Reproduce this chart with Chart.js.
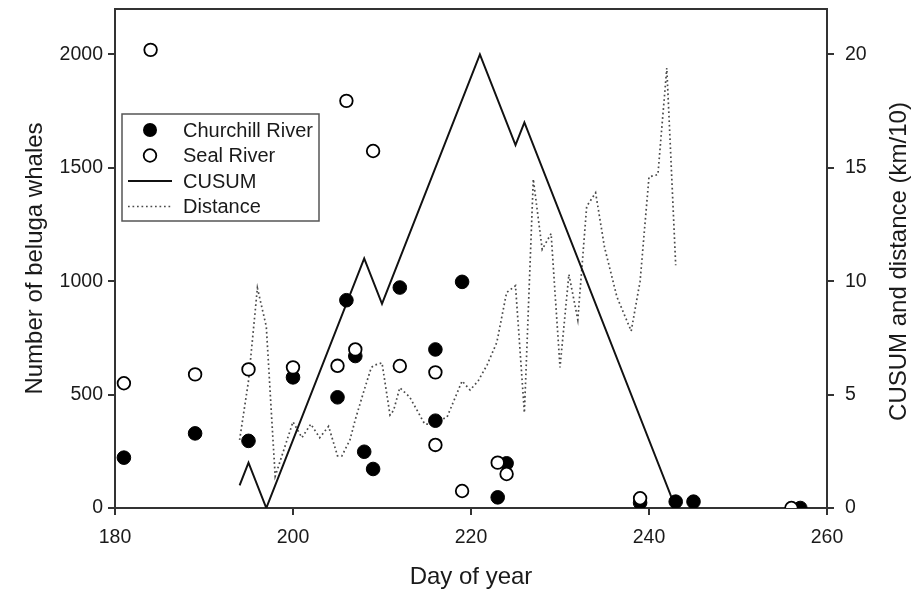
<!DOCTYPE html>
<html>
<head>
<meta charset="utf-8" />
<title>Beluga whales</title>
<script src="https://cdn.jsdelivr.net/npm/chart.js@4.4.1/dist/chart.umd.min.js"></script>
<style>
	html, body { margin: 0; padding: 0; background: #fff; }
	#wrap { width: 915px; height: 592px; }
</style>
</head>
<body>
<div id="wrap"><canvas id="myChart" width="915" height="592"></canvas></div>
<script>
// Beluga counts by day of year
const churchillDay = [181, 189, 195, 200, 205, 206, 207, 208, 209, 212, 216, 216, 219, 223, 224, 239, 243, 245, 257];
const churchillCount = [222, 329, 296, 576, 488, 916, 670, 248, 172, 972, 699, 385, 997, 47, 197, 23, 28, 28, 0];

const sealDay = [181, 184, 189, 195, 200, 205, 206, 207, 209, 212, 216, 216, 219, 223, 224, 239, 256];
const sealCount = [550, 2020, 589, 611, 620, 627, 1795, 699, 1574, 626, 598, 278, 75, 200, 150, 43, 0];

// CUSUM and distance (km/10), right axis
const cusumDay = [194, 195, 197, 208, 210, 221, 225, 226, 243];
const cusumValue = [1, 2, 0, 11, 9, 20, 16, 17, 0];

const distanceDay = [194, 195, 196, 197, 197.6, 198, 199, 200, 201, 202, 203, 204, 205, 205.5, 206.4, 207, 208, 208.8, 209.2, 210, 210.9, 211.3, 212, 213.1, 214.8, 215.4, 217.3, 219, 219.9, 220.8, 221.8, 222.9, 224, 225, 226, 227, 228, 229, 230, 231, 232, 233, 234, 235, 236.4, 238, 239, 240, 241, 242, 243];
const distanceValue = [3.0, 5.6, 9.7, 8.0, 4.0, 1.4, 2.6, 3.8, 3.1, 3.7, 3.1, 3.6, 2.3, 2.3, 3.0, 3.9, 5.2, 6.2, 6.3, 6.4, 4.1, 4.3, 5.3, 4.9, 3.7, 3.7, 4.0, 5.6, 5.2, 5.6, 6.3, 7.3, 9.5, 9.8, 4.2, 14.5, 11.4, 12.1, 6.2, 10.3, 8.3, 13.3, 13.9, 11.5, 9.3, 7.8, 10.0, 14.6, 14.7, 19.4, 10.7];

const xTicks = [180, 200, 220, 240, 260];
const leftTicks = [0, 500, 1000, 1500, 2000];
const rightTicks = [0, 5, 10, 15, 20];

const legendItems = [
	{ label: "Churchill River", kind: "filled" },
	{ label: "Seal River", kind: "open" },
	{ label: "CUSUM", kind: "line" },
	{ label: "Distance", kind: "dotted" },
];

function pairs(xs, ys) {
	return xs.map((x, i) => ({ x: x, y: ys[i] }));
}

const FONT = "'Liberation Sans', Arial, Helvetica, sans-serif";
const AXIS = "#333";
const TEXT = "#1a1a1a";
const DOTS = "#4a4a4a";

// box on top, right title, legend inside the plot
const extras = {
	id: "extras",
	afterDraw(chart) {
		const ctx = chart.ctx;
		const a = chart.chartArea;
		ctx.save();
		// top frame line
		ctx.strokeStyle = AXIS;
		ctx.lineWidth = 2;
		ctx.beginPath();
		ctx.moveTo(a.left - 1, a.top);
		ctx.lineTo(a.right + 1, a.top);
		ctx.stroke();

		// right title, reading upward
		ctx.fillStyle = TEXT;
		ctx.font = "24px " + FONT;
		ctx.textAlign = "center";
		ctx.textBaseline = "middle";
		ctx.translate(899, (a.top + a.bottom) / 2 + 3);
		ctx.rotate(-Math.PI / 2);
		ctx.fillText("CUSUM and distance (km/10)", 0, 0);
		ctx.restore();

		// legend
		ctx.save();
		ctx.fillStyle = "#fff";
		ctx.fillRect(122, 114, 197, 107);
		ctx.strokeStyle = "#555";
		ctx.lineWidth = 1.5;
		ctx.strokeRect(122, 114, 197, 107);
		ctx.font = "20px " + FONT;
		ctx.textAlign = "left";
		ctx.textBaseline = "middle";
		legendItems.forEach((it, i) => {
			const y = 130 + i * 25.5;
			ctx.strokeStyle = "#000";
			if (it.kind === "filled") {
				ctx.fillStyle = "#000";
				ctx.beginPath();
				ctx.arc(150, y, 7, 0, Math.PI * 2);
				ctx.fill();
			} else if (it.kind === "open") {
				ctx.fillStyle = "#fff";
				ctx.lineWidth = 1.8;
				ctx.beginPath();
				ctx.arc(150, y, 6.3, 0, Math.PI * 2);
				ctx.fill();
				ctx.stroke();
			} else {
				ctx.lineWidth = it.kind === "line" ? 2 : 1.7;
				ctx.strokeStyle = it.kind === "line" ? "#111" : DOTS;
				ctx.setLineDash(it.kind === "line" ? [] : [1.7, 2.8]);
				ctx.beginPath();
				ctx.moveTo(128, y);
				ctx.lineTo(172, y);
				ctx.stroke();
				ctx.setLineDash([]);
			}
			ctx.fillStyle = TEXT;
			ctx.fillText(it.label, 183, y + 1);
		});
		ctx.restore();
	},
};

function keepTicks(list) {
	return (scale) => {
		scale.ticks = list.map((v) => ({ value: v }));
	};
}

const plain = (v) => String(v);

new Chart(document.getElementById("myChart").getContext("2d"), {
	type: "scatter",
	data: {
		datasets: [
			{
				label: "Seal River",
				data: pairs(sealDay, sealCount),
				yAxisID: "y",
				pointRadius: 6.3,
				pointBackgroundColor: "#fff",
				pointBorderColor: "#000",
				pointBorderWidth: 1.8,
				order: 0,
			},
			{
				label: "Churchill River",
				data: pairs(churchillDay, churchillCount),
				yAxisID: "y",
				pointRadius: 6.8,
				pointBackgroundColor: "#000",
				pointBorderColor: "#000",
				pointBorderWidth: 1,
				order: 1,
			},
			{
				label: "CUSUM",
				data: pairs(cusumDay, cusumValue),
				yAxisID: "y2",
				showLine: true,
				borderColor: "#111",
				borderWidth: 2,
				pointRadius: 0,
				tension: 0,
				order: 2,
			},
			{
				label: "Distance",
				data: pairs(distanceDay, distanceValue),
				yAxisID: "y2",
				showLine: true,
				borderColor: DOTS,
				borderWidth: 1.7,
				borderDash: [1.7, 2.8],
				pointRadius: 0,
				tension: 0,
				order: 3,
			},
		],
	},
	options: {
		responsive: false,
		animation: false,
		devicePixelRatio: 1,
		layout: { padding: { top: 9, left: 0, right: 0, bottom: 0 } },
		plugins: {
			legend: { display: false },
			tooltip: { enabled: false },
		},
		scales: {
			x: {
				type: "linear",
				position: "bottom",
				min: 180,
				max: 260,
				afterBuildTicks: keepTicks(xTicks),
				afterFit: (s) => {
					s.height = 84;
					s.paddingLeft = 0;
					s.paddingRight = 0;
				},
				grid: { drawOnChartArea: false, drawTicks: true, tickLength: 7, color: AXIS, lineWidth: 2 },
				border: { display: true, color: AXIS, width: 2 },
				ticks: { color: TEXT, font: { family: FONT, size: 19.5 }, padding: 11, maxRotation: 0, callback: plain },
				title: { display: true, text: "Day of year", color: TEXT, font: { family: FONT, size: 24 }, padding: { top: 0, bottom: 0 } },
			},
			y: {
				type: "linear",
				position: "left",
				min: 0,
				max: 2200,
				afterBuildTicks: keepTicks(leftTicks),
				afterFit: (s) => {
					s.width = 115;
					s.paddingTop = 0;
					s.paddingBottom = 0;
				},
				grid: { drawOnChartArea: false, drawTicks: true, tickLength: 7, color: AXIS, lineWidth: 2 },
				border: { display: true, color: AXIS, width: 2 },
				ticks: { color: TEXT, font: { family: FONT, size: 19.5 }, padding: 5, callback: plain },
				title: { display: true, text: "Number of beluga whales", color: TEXT, font: { family: FONT, size: 24 }, padding: { top: 21, bottom: 0 } },
			},
			y2: {
				type: "linear",
				position: "right",
				min: 0,
				max: 22,
				afterBuildTicks: keepTicks(rightTicks),
				afterFit: (s) => {
					s.width = 88;
					s.paddingTop = 0;
					s.paddingBottom = 0;
				},
				grid: { drawOnChartArea: false, drawTicks: true, tickLength: 7, color: AXIS, lineWidth: 2 },
				border: { display: true, color: AXIS, width: 2 },
				ticks: { color: TEXT, font: { family: FONT, size: 19.5 }, padding: 11, callback: plain },
			},
		},
	},
	plugins: [extras],
});
</script>
</body>
</html>
